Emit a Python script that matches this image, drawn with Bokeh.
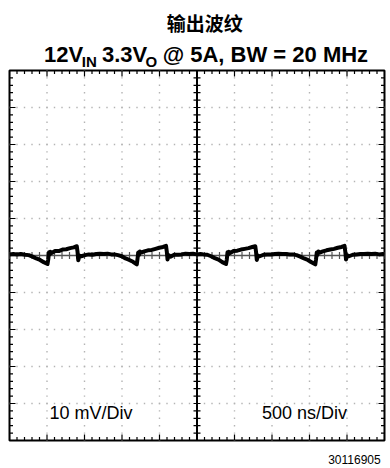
import numpy as np
from bokeh.plotting import figure
from bokeh.layouts import column
from bokeh.models import Label, Range1d, ColumnDataSource
from bokeh.core.properties import value
from bokeh.embed import file_html
from bokeh.resources import INLINE

# ---------------- data ----------------
title_cn = "输出波纹"
title_parts = ["12V", "IN", "3.3V", "O", "@ 5A, BW = 20 MHz"]
volt_label = "10 mV/Div"
time_label = "500 ns/Div"
fig_id = "30116905"

# time axis (ns): 10 div x 500 ns ; voltage axis (mV): 10 div x 10 mV
t_ns = [0, 50, 100, 150, 207, 257, 307, 357, 407, 457, 507, 517, 527, 537, 547, 567, 607, 657, 707, 757,
        807, 857, 897, 907, 917, 932, 957, 1007, 1057, 1107, 1157, 1207, 1257, 1307, 1357, 1397,
        1447, 1497, 1547, 1597, 1647, 1697, 1707, 1717, 1727, 1737, 1757, 1797, 1847, 1897, 1947, 1997,
        2047, 2087, 2097, 2107, 2122, 2147, 2197, 2247, 2297, 2347, 2397, 2447, 2497, 2547, 2587,
        2637, 2687, 2737, 2787, 2837, 2887, 2897, 2907, 2917, 2927, 2947, 2987, 3037, 3087, 3137, 3187,
        3237, 3277, 3287, 3297, 3312, 3337, 3387, 3437, 3487, 3537, 3587, 3637, 3687, 3737, 3777,
        3827, 3877, 3927, 3977, 4027, 4077, 4087, 4097, 4107, 4117, 4137, 4177, 4227, 4277, 4327, 4377,
        4427, 4467, 4477, 4487, 4502, 4527, 4577, 4627, 4677, 4727, 4777, 4827, 4877, 4927, 4977, 5000]
v_mV = [0.3, 0.4, 0.3, 0.4, 0.2, 0.1, -0.3, -0.8, -1.2, -1.8, -2.3, -1.0, 0.9, 0.3, 1.0, 0.7, 1.2, 1.2, 1.6, 1.7,
        2.0, 2.2, 2.5, 1.0, -1.3, 0.0, -0.2, 0.1, 0.3, 0.2, 0.4, 0.5, 0.4, 0.5, 0.3, 0.3,
        0.1, -0.2, -0.8, -1.2, -1.7, -2.4, -0.9, 0.8, 0.2, 1.1, 0.8, 1.1, 1.4, 1.5, 1.8, 2.1,
        2.3, 2.6, 1.1, -1.1, 0.1, -0.3, 0.2, 0.2, 0.3, 0.5, 0.4, 0.5, 0.3, 0.4, 0.3,
        0.2, -0.2, -0.7, -1.1, -1.8, -2.3, -1.1, 0.9, 0.3, 1.0, 0.7, 1.2, 1.3, 1.6, 1.8, 2.0,
        2.3, 2.5, 1.0, -1.2, 0.0, -0.2, 0.2, 0.3, 0.3, 0.4, 0.5, 0.4, 0.4, 0.3, 0.3,
        0.1, -0.3, -0.8, -1.2, -1.8, -2.4, -1.0, 0.8, 0.2, 1.1, 0.8, 1.1, 1.4, 1.6, 1.8, 2.1,
        2.3, 2.6, 1.1, -1.1, 0.1, -0.2, 0.2, 0.3, 0.4, 0.4, 0.5, 0.4, 0.5, 0.3, 0.4, 0.3]

T_MAX, V_MIN, V_MAX = 5000, -50, 50
T_DIV, V_DIV = 500, 10

W = 390
FONT = "Liberation Sans"

# ---------------- title figure ----------------
TH = 69
tf = figure(width=W, height=TH, x_range=Range1d(0, W), y_range=Range1d(0, TH),
            output_backend="svg", toolbar_location=None,
            x_axis_location=None, y_axis_location=None, min_border=0)
tf.grid.visible = False
tf.outline_line_color = None
tf.text(x=[203], y=[TH - 22], text=[title_cn], text_font=value("Noto Sans CJK SC"),
        text_font_size="19px", text_font_style="bold", text_align="center",
        text_baseline="middle", text_color="black")
tsrc = ColumnDataSource(dict(
    x=[36, 75.1, 96.2, 141.5, 159.3],
    y=[TH - 54, TH - 61, TH - 54, TH - 61, TH - 54],
    text=title_parts,
    size=["22px", "15px", "22px", "15px", "22px"],
))
tf.text(x="x", y="y", text="text", source=tsrc, text_font=value(FONT),
        text_font_size="size", text_font_style="bold", text_align="left",
        text_baseline="alphabetic", text_color="black")

# ---------------- main scope figure ----------------
p = figure(width=W, height=378, x_range=Range1d(0, T_MAX), y_range=Range1d(V_MIN, V_MAX),
           output_backend="svg", toolbar_location=None,
           x_axis_location=None, y_axis_location=None,
           min_border_left=9, min_border_right=6, min_border_top=1, min_border_bottom=7)
p.grid.visible = False
p.outline_line_color = "black"
p.outline_line_width = 2
p.background_fill_color = "white"

# dotted graticule
gx, gy = [], []
tick_t = np.arange(0, T_MAX + 1, T_DIV / 5)
tick_v = np.arange(V_MIN, V_MAX + 0.01, V_DIV / 5)
for k in range(1, 10):
    if k == 5:
        continue
    xv = k * T_DIV
    gx += [xv] * len(tick_v)
    gy += list(tick_v)
for k in range(-4, 5):
    if k == 0:
        continue
    yv = k * V_DIV
    gx += list(tick_t)
    gy += [yv] * len(tick_t)
p.scatter(gx, gy, marker="square", size=1.4, fill_color="#b4b4b4", line_color=None)

# center lines
p.segment(x0=[0], y0=[0], x1=[T_MAX], y1=[0], line_color="#555555", line_width=1.5)
p.segment(x0=[T_MAX / 2], y0=[V_MIN], x1=[T_MAX / 2], y1=[V_MAX], line_color="black", line_width=2)

# ticks
is_major_t = [abs(t % T_DIV) < 1e-6 for t in tick_t]
is_major_v = [abs((v - V_MIN) % V_DIV) < 1e-6 for v in tick_v]
size_t = [12 if m else 7 for m in is_major_t]
size_v = [12 if m else 7 for m in is_major_v]
for yb in (V_MIN, V_MAX):
    p.scatter(tick_t, [yb] * len(tick_t), marker="dash", angle=np.pi / 2, size=size_t,
              line_color="black", line_width=1.2)
for xb in (0, T_MAX):
    p.scatter([xb] * len(tick_v), tick_v, marker="dash", angle=0, size=size_v,
              line_color="black", line_width=1.2)
p.scatter([T_MAX / 2] * len(tick_v), tick_v, marker="dash", angle=0, size=7,
          line_color="black", line_width=1.2)
p.scatter(tick_t, [0] * len(tick_t), marker="dash", angle=np.pi / 2, size=7,
          line_color="#555555", line_width=1.2)

# trace
p.line(t_ns, v_mV, line_color="black", line_width=4, line_join="round")

p.add_layout(Label(x=1087, y=-42.7, text=volt_label, text_font=FONT, text_font_size="18px",
                   text_align="center", text_baseline="middle", text_color="black"))
p.add_layout(Label(x=3933, y=-42.7, text=time_label, text_font=FONT, text_font_size="18px",
                   text_align="center", text_baseline="middle", text_color="black"))

# ---------------- footer ----------------
FH = 21
ff = figure(width=W, height=FH, x_range=Range1d(0, W), y_range=Range1d(0, FH),
            output_backend="svg", toolbar_location=None,
            x_axis_location=None, y_axis_location=None, min_border=0)
ff.grid.visible = False
ff.outline_line_color = None
ff.text(x=[386], y=[FH - 12], text=[fig_id], text_font=value(FONT), text_font_size="12px",
        text_align="right", text_baseline="middle", text_color="black")

layout = column(tf, p, ff, spacing=0)
open("out.html", "w").write(file_html(layout, INLINE))
